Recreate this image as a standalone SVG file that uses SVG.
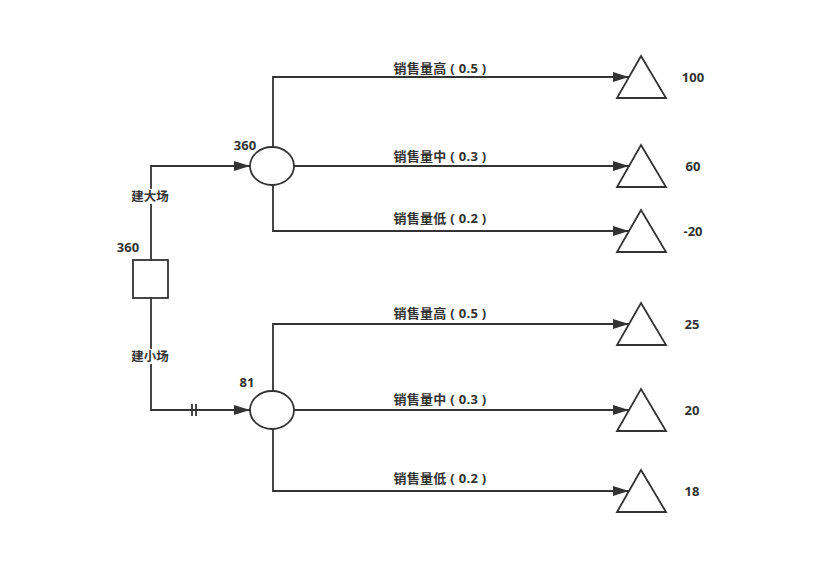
<svg xmlns="http://www.w3.org/2000/svg" width="835" height="573" viewBox="0 0 835 573">
<defs>
<marker id="arr" viewBox="0 0 16 10" refX="16" refY="5" markerWidth="16" markerHeight="10" markerUnits="userSpaceOnUse" orient="auto">
<path d="M0,0 L16,5 L0,10 Z" fill="#333"/>
</marker>
<style>
.ln{fill:none;stroke:#333;stroke-width:1.8}
.nd{fill:#fff;stroke:#333;stroke-width:1.8}
.t{font-family:"Open Sans","Noto Sans CJK SC",sans-serif;font-size:13px;font-weight:bold;fill:#333}
.lb{font-family:"Noto Sans CJK SC","Open Sans",sans-serif;font-size:12.5px;font-weight:bold;fill:#333;text-anchor:middle}
.bl{font-family:"Open Sans","Noto Sans CJK SC",sans-serif;font-size:13px;font-weight:bold;fill:#333;text-anchor:middle;letter-spacing:0.3px}
</style>
</defs>
<rect width="835" height="573" fill="#fff"/>
<g id="connectors">
<path class="ln" d="M151,260 V166 H250" marker-end="url(#arr)"/>
<path class="ln" d="M151,298 V410 H250" marker-end="url(#arr)"/>
<path class="ln" d="M192,404 V416 M196,404 V416"/>
<path class="ln" d="M273,147 V77 H629" marker-end="url(#arr)"/>
<path class="ln" d="M294,166 H629" marker-end="url(#arr)"/>
<path class="ln" d="M273,185 V231 H629" marker-end="url(#arr)"/>
<path class="ln" d="M273,391 V324 H629" marker-end="url(#arr)"/>
<path class="ln" d="M294,410 H629" marker-end="url(#arr)"/>
<path class="ln" d="M273,429 V491 H629" marker-end="url(#arr)"/>
</g>
<g id="decision">
<rect class="nd" x="133" y="260" width="35" height="38"/>
<text class="t" x="128" y="252" text-anchor="middle">360</text>
</g>
<g id="label-big">
<rect x="131" y="189" width="38" height="15" fill="#fff"/>
<text class="lb" x="150" y="201">建大场</text>
</g>
<g id="label-small">
<rect x="131" y="349" width="38" height="15" fill="#fff"/>
<text class="lb" x="150" y="361">建小场</text>
</g>
<g id="chance1">
<ellipse class="nd" cx="272" cy="166" rx="22" ry="19"/>
<text class="t" x="245" y="150" text-anchor="middle">360</text>
</g>
<g id="chance2">
<ellipse class="nd" cx="272" cy="410" rx="22" ry="19"/>
<text class="t" x="247" y="387" text-anchor="middle">81</text>
</g>
<g id="branch-labels">
<text class="bl" x="440" y="73">销售量高 ( 0.5 )</text>
<text class="bl" x="440" y="161">销售量中 ( 0.3 )</text>
<text class="bl" x="440" y="223">销售量低 ( 0.2 )</text>
<text class="bl" x="440" y="318">销售量高 ( 0.5 )</text>
<text class="bl" x="440" y="404">销售量中 ( 0.3 )</text>
<text class="bl" x="440" y="483">销售量低 ( 0.2 )</text>
</g>
<g id="end1"><path class="nd" d="M641,56 L666,98 H617 Z"/><text class="t" x="693" y="82" text-anchor="middle">100</text></g>
<g id="end2"><path class="nd" d="M641,145 L666,187 H617 Z"/><text class="t" x="693" y="171" text-anchor="middle">60</text></g>
<g id="end3"><path class="nd" d="M641,210 L666,252 H617 Z"/><text class="t" x="693" y="236" text-anchor="middle">-20</text></g>
<g id="end4"><path class="nd" d="M641,303 L666,345 H617 Z"/><text class="t" x="692" y="329" text-anchor="middle">25</text></g>
<g id="end5"><path class="nd" d="M641,389 L666,431 H617 Z"/><text class="t" x="692" y="415" text-anchor="middle">20</text></g>
<g id="end6"><path class="nd" d="M641,470 L666,512 H617 Z"/><text class="t" x="692" y="496" text-anchor="middle">18</text></g>
</svg>
